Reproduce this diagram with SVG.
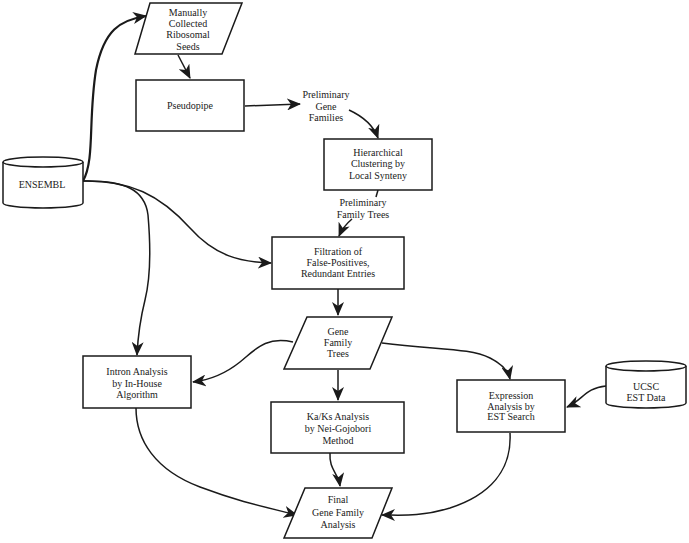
<svg xmlns="http://www.w3.org/2000/svg" width="689" height="543" viewBox="0 0 689 543">
<defs>
<marker id="ah" markerUnits="userSpaceOnUse" markerWidth="14" markerHeight="12" viewBox="0 0 14 12" refX="13" refY="6" orient="auto">
<path d="M0,0 L14,6 L0,12 L4,6 z" fill="#1a1a1a"/>
</marker>
<style>
.box{fill:#fff;stroke:#1a1a1a;stroke-width:1.5}
.t{font-family:"Liberation Serif","Times New Roman",serif;font-size:10px;fill:#1a1a1a;text-anchor:middle}
.c{fill:none;stroke:#1a1a1a;stroke-width:1.5;marker-end:url(#ah)}
</style>
</defs>
<rect width="689" height="543" fill="#fff"/>
<g id="connectors">
<path class="c" d="M83,181 C95,160 88,120 96,70 C104,30 120,20 146,16" style="stroke-width:2.2"/>
<path class="c" d="M178,55 L190,78"/>
<path class="c" d="M245,106 L300,104"/>
<path class="c" d="M349,110 C362,116 373,124 378,138"/>
<path d="M378,190 L376,197" fill="none" stroke="#1a1a1a" stroke-width="1.5"/>
<path class="c" d="M352,219 C346,224 342,229 339,236"/>
<path class="c" d="M83,181 C130,180 160,195 190,228 C215,256 240,262 271,263"/>
<path class="c" d="M83,181 C125,180 145,190 148,215 C151,250 150,280 145,300 C140,320 138,335 137,355"/>
<path class="c" d="M338,289 L338,315"/>
<path class="c" d="M293,342 C265,336 255,350 240,362 C225,374 210,380 193,382"/>
<path class="c" d="M382,343 C440,350 470,348 490,358 C502,364 508,370 510,379"/>
<path class="c" d="M338,370 L338,400"/>
<path class="c" d="M606,386 C585,388 583,400 567,407"/>
<path class="c" d="M330,453 C329,470 338,472 340,486"/>
<path class="c" d="M136,408 C136,440 155,470 200,487 C240,502 265,507 297,515"/>
<path class="c" d="M510,433 C512,470 490,495 450,508 C420,517 400,515 382,515"/>
</g>
<g id="manual">
<polygon class="box" points="150,3 242,3 222,54 135,54"/>
<text class="t" x="188" y="16">Manually</text>
<text class="t" x="188" y="27">Collected</text>
<text class="t" x="188" y="38">Ribosomal</text>
<text class="t" x="188" y="50">Seeds</text>
</g>
<g id="pseudopipe">
<rect class="box" x="136" y="80" width="108" height="51"/>
<text class="t" x="190" y="109">Pseudopipe</text>
</g>
<g id="prelim-gene-families">
<text class="t" x="326" y="98">Preliminary</text>
<text class="t" x="326" y="110">Gene</text>
<text class="t" x="326" y="121">Families</text>
</g>
<g id="hierarchical">
<rect class="box" x="324" y="139" width="108" height="51"/>
<text class="t" x="378" y="156">Hierarchical</text>
<text class="t" x="378" y="167">Clustering by</text>
<text class="t" x="378" y="179">Local Synteny</text>
</g>
<g id="prelim-family-trees">
<text class="t" x="363" y="206">Preliminary</text>
<text class="t" x="363" y="218">Family Trees</text>
</g>
<g id="ensembl">
<path class="box" d="M3,162 L3,203 A40,5 0 0 0 83,203 L83,162"/>
<ellipse class="box" cx="43" cy="162" rx="40" ry="5"/>
<text class="t" x="42" y="188">ENSEMBL</text>
</g>
<g id="filtration">
<rect class="box" x="272" y="237" width="132" height="52"/>
<text class="t" x="338" y="255">Filtration of</text>
<text class="t" x="338" y="266">False-Positives,</text>
<text class="t" x="338" y="277">Redundant Entries</text>
</g>
<g id="gene-family-trees">
<polygon class="box" points="307,317 392,317 370,369 284,369"/>
<text class="t" x="338" y="335">Gene</text>
<text class="t" x="338" y="346">Family</text>
<text class="t" x="338" y="357">Trees</text>
</g>
<g id="intron">
<rect class="box" x="83" y="356" width="108" height="52"/>
<text class="t" x="137" y="375">Intron Analysis</text>
<text class="t" x="137" y="387">by In-House</text>
<text class="t" x="137" y="398">Algorithm</text>
</g>
<g id="kaks">
<rect class="box" x="271" y="402" width="133" height="51"/>
<text class="t" x="338" y="420">Ka/Ks Analysis</text>
<text class="t" x="338" y="432">by Nei-Gojobori</text>
<text class="t" x="338" y="444">Method</text>
</g>
<g id="expression">
<rect class="box" x="457" y="380" width="108" height="52"/>
<text class="t" x="511" y="399">Expression</text>
<text class="t" x="511" y="410">Analysis by</text>
<text class="t" x="511" y="420">EST Search</text>
</g>
<g id="ucsc">
<path class="box" d="M606,366 L606,403 A40,5 0 0 0 686,403 L686,366"/>
<ellipse class="box" cx="646" cy="366" rx="40" ry="5"/>
<text class="t" x="646" y="390">UCSC</text>
<text class="t" x="646" y="401">EST Data</text>
</g>
<g id="final">
<polygon class="box" points="305,488 392,488 372,538 284,538"/>
<text class="t" x="338" y="503">Final</text>
<text class="t" x="338" y="516">Gene Family</text>
<text class="t" x="338" y="528">Analysis</text>
</g>
</svg>
